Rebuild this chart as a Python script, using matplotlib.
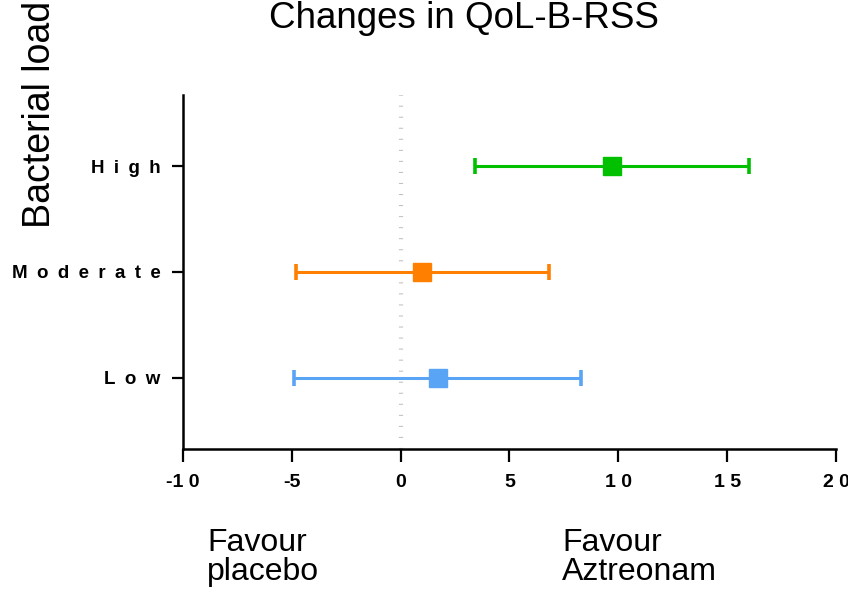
import matplotlib
matplotlib.use("Agg")
import matplotlib.pyplot as plt

plt.rcParams["font.family"] = ["Liberation Sans", "DejaVu Sans"]

# data
GROUPS = ["Low", "Moderate", "High"]
MEAN = [1.7, 1.0, 9.7]
CI_LO = [-4.9, -4.8, 3.4]
CI_HI = [8.3, 6.8, 16.0]
COLORS = ["#5aa4f6", "#ff8000", "#00c000"]
XTICKS = [-10, -5, 0, 5, 10, 15, 20]

SP = "\u2002"  # wide letter spacing like the original labels


def spaced(s, sep=SP):
    return sep.join(s)


def xlabel_text(t):
    s = str(abs(t))
    return ("-" if t < 0 else "") + spaced(s, " ")


fig = plt.figure(figsize=(8.48, 5.92), dpi=100)
ax = fig.add_axes([183 / 848, 1 - 449 / 592, (836 - 183) / 848, (449 - 95) / 592])

# zero line: column of tiny grey dashes
ax.axvline(0, color="#c0c0c0", lw=3.0, ls=(0, (0.25, 2.4)), zorder=1)

for i, (m, lo, hi, c) in enumerate(zip(MEAN, CI_LO, CI_HI, COLORS)):
    y = i + 1
    ax.errorbar(m, y, xerr=[[m - lo], [hi - m]], fmt="s", color=c, ms=13,
                lw=2.2, capsize=6, capthick=2.6, zorder=3)

ax.set_xlim(-10, 20)
ax.set_ylim(0.33, 3.67)
ax.set_xticks(XTICKS)
ax.set_xticklabels([xlabel_text(t) for t in XTICKS], fontsize=14, fontweight="bold")
ax.set_yticks([1, 2, 3])
ax.set_yticklabels([spaced(g) for g in GROUPS], fontsize=13.5, fontweight="bold")
ax.tick_params(axis="x", direction="out", length=9, width=1.6, pad=9)
ax.tick_params(axis="y", direction="out", length=8, width=1.6, pad=8)
for s in ["top", "right"]:
    ax.spines[s].set_visible(False)
for s in ["left", "bottom"]:
    ax.spines[s].set_linewidth(1.8)

fig.text(464 / 848, 1 - 28 / 592, "Changes in QoL-B-RSS", ha="center", va="baseline", fontsize=26.5)
fig.text(40 / 848, 1 - 114 / 592, "Bacterial load", rotation=90, ha="center", va="center", fontsize=27)
fig.text(207 / 848, 1 - 580 / 592, "Favour\nplacebo", ha="left", va="baseline", fontsize=23, linespacing=0.95)
fig.text(562 / 848, 1 - 580 / 592, "Favour\nAztreonam", ha="left", va="baseline", fontsize=23, linespacing=0.95)

fig.savefig("out.png", dpi=100)
